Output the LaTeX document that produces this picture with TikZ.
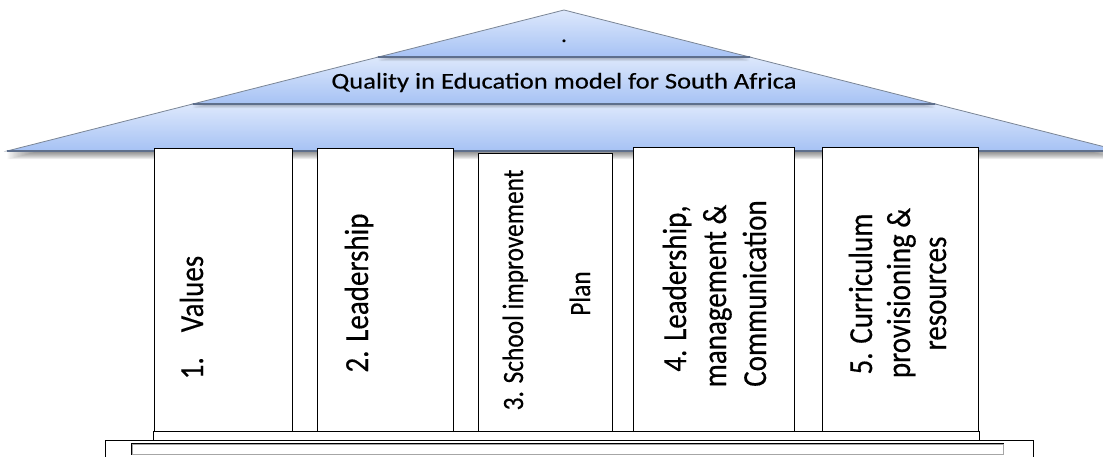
\documentclass[tikz,border=0pt]{standalone}
\usepackage{fontspec}
\setmainfont{Carlito}[FakeBold=0.4]
\usepackage{graphicx}
\definecolor{bandtop}{HTML}{DDE8FC}
\definecolor{bandbot}{HTML}{A6C2F4}
\definecolor{roofedge}{HTML}{7A8595}
\definecolor{bandline}{HTML}{5E6F8C}
\newcommand\colstretch[1]{\scalebox{1}[1.16]{#1}}
\begin{document}
\begin{tikzpicture}[x=1pt,y=-1pt,
  roofband/.style={top color=bandtop, bottom color=bandbot, draw=roofedge, line width=0.8pt},
  sepline/.style={draw=bandline, line width=1.8pt},
  pillar/.style={draw=black, fill=white, line width=1.4pt, inner sep=0pt, anchor=north west},
  stepbox/.style={draw=black, fill=white, line width=1.4pt},
  vlabel/.style={rotate=90, anchor=base, inner sep=0pt, font=\fontsize{29}{35}\selectfont},
  vsmall/.style={rotate=90, anchor=base, inner sep=0pt, font=\fontsize{25.4}{30}\selectfont},
]
\useasboundingbox (0,0) rectangle (1103,456);
\clip (0,0) rectangle (1103,456);

% roof: three stacked bands of a pyramid
\def\bandC{(192.7,104) -- (935.3,104) -- (1121,151) -- (7,151) -- cycle}
\def\bandB{(378.35,57) -- (749.65,57) -- (935.3,104) -- (192.7,104) -- cycle}
\def\bandA{(564,10) -- (749.65,57) -- (378.35,57) -- cycle}

% soft shadow under the roof
\foreach \d in {1,...,8}{
  \begin{scope}[shift={(0,\d)}]
    \fill[black, opacity=0.07] (192.7,104) -- (935.3,104) -- (1121,151) -- (7,151) -- cycle;
  \end{scope}
}
\path[roofband] \bandC;
\foreach \d in {1,...,4}{
  \begin{scope}[shift={(0,\d)}]
    \fill[black, opacity=0.07] (378.35,57) -- (749.65,57) -- (935.3,104) -- (192.7,104) -- cycle;
  \end{scope}
}
\path[roofband] \bandB;
\foreach \d in {1,...,4}{
  \begin{scope}[shift={(0,\d)}]
    \fill[black, opacity=0.07] (564,10) -- (749.65,57) -- (378.35,57) -- cycle;
  \end{scope}
}
\path[roofband] \bandA;
\draw[sepline] (378.35,57) -- (749.65,57);
\draw[sepline] (192.7,104) -- (935.3,104);
\draw[draw=bandline, line width=1.2pt] (7,151) -- (1121,151);

\node[anchor=base, inner sep=0pt, font=\fontsize{22}{26}\selectfont] (dot) at (564,42) {.};
\node[anchor=base, inner sep=0pt, font=\fontsize{22.5}{26}\selectfont] (title) at (564,88.5)
  {\scalebox{1.18}[1]{Quality in Education model for South Africa}};

% pillars
\node[pillar, minimum width=138pt, minimum height=283pt] (p1) at (154,148) {};
\node[pillar, minimum width=136pt, minimum height=283pt] (p2) at (317,148) {};
\node[pillar, minimum width=134pt, minimum height=278pt] (p3) at (478,153) {};
\node[pillar, minimum width=161pt, minimum height=284pt] (p4) at (633,147) {};
\node[pillar, minimum width=156pt, minimum height=284pt] (p5) at (822,147) {};

% pillar labels
\node[vlabel] (t1) at (203,317.5) {\colstretch{1.\hspace{25pt}Values}};
\node[vlabel] (t2) at (368,293) {\colstretch{2. Leadership}};
\node[vsmall] (t3a) at (523,290) {\colstretch{3. School improvement}};
\node[vsmall] (t3b) at (590,293.5) {\colstretch{Plan}};
\node[vlabel] (t4a) at (686,288.5) {\colstretch{4. Leadership,}};
\node[vlabel] (t4b) at (726,296) {\colstretch{management \&}};
\node[vlabel] (t4c) at (766,293.5) {\colstretch{Communication}};
\node[vlabel] (t5a) at (872,294) {\colstretch{5. Curriculum}};
\node[vlabel] (t5b) at (910,293) {\colstretch{provisioning \&}};
\node[vlabel] (t5c) at (946,293.5) {\colstretch{resources}};

% base steps
\node[stepbox, anchor=north west, inner sep=0pt, minimum width=826pt, minimum height=9pt] (step1) at (153,431) {};
\node[stepbox, anchor=north west, inner sep=0pt, minimum width=928pt, minimum height=40pt] (step2) at (105,440) {};
\node[stepbox, anchor=north west, inner sep=0pt, minimum width=872pt, minimum height=11pt] (step3) at (131,443) {};
\draw[gray!70, line width=0.6pt] ([shift={(1.6pt,-1.6pt)}]step3.north west) rectangle ([shift={(-1.6pt,1.6pt)}]step3.south east);
\end{tikzpicture}
\end{document}
